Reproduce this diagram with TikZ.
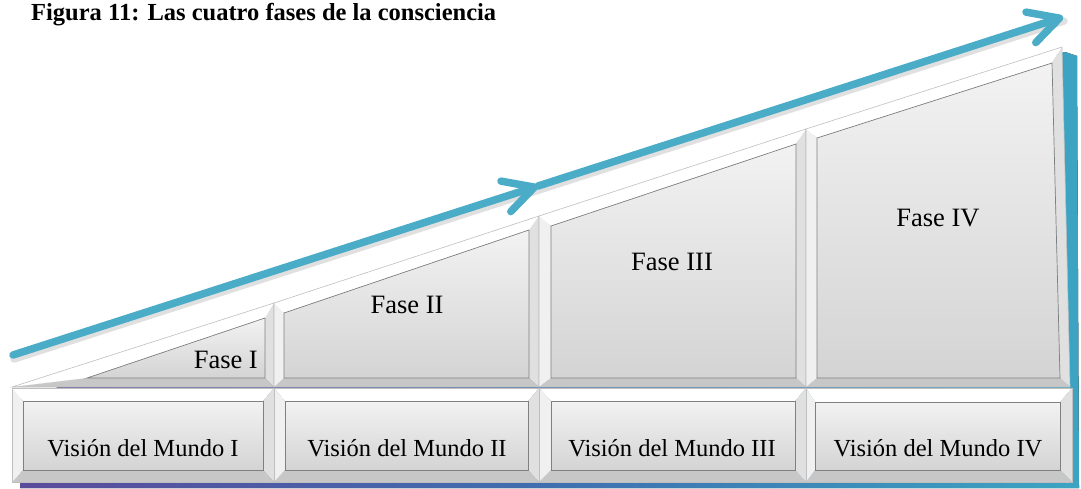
\documentclass[tikz,border=0pt]{standalone}
\usepackage{fontspec}
\setmainfont{Liberation Serif}
\usetikzlibrary{arrows.meta}
\definecolor{flowteal}{HTML}{4AACC6}
\definecolor{backpurple}{HTML}{5B4B9B}
\definecolor{backblue}{HTML}{3F6FAF}
\definecolor{backteal}{HTML}{3CA4C2}
\begin{document}
\begin{tikzpicture}[x=1pt, y=-1pt,
    face/.style={top color=black!5, bottom color=black!17, draw=black!50, line width=0.7pt},
    phasetext/.style={font=\fontsize{26.5}{30}\selectfont, inner sep=0pt},
    worldtext/.style={font=\fontsize{24.5}{28}\selectfont, inner sep=0pt},
    flow/.style={draw=flowteal, line width=7.5pt, line cap=round,
      -{Straight Barb[length=30pt, width=32pt, line cap=round, line join=round]}},
    flowshadow/.style={draw=black!12, line width=7.5pt, line cap=round}]
  \useasboundingbox (0,0) rectangle (1081,488);
  % TITLE
  \node[anchor=base west, inner sep=0pt, font=\fontsize{24.5}{30}\selectfont\bfseries] (title) at (31,20)
    {Figura 11: Las cuatro fases de la consciencia};
  % COLOURED BACKING
  \fill[left color=backpurple, right color=backteal, middle color=backblue]
    (20,400) -- (1065,52) -- (1077,56) -- (1079,488) -- (20,488) -- cycle;
  % BEVELLED BOXES (outer TL/TR/BR/BL, inner TL/TR/BR/BL)
  \foreach \otl/\otr/\obr/\obl/\itl/\itr/\ibr/\ibl in {
      {12,388}/{274,388}/{274,482}/{12,482}/{23,401}/{263,401}/{263,470}/{23,470},
      {274,388}/{539,388}/{539,482}/{274,482}/{285,401}/{528,401}/{528,470}/{285,470},
      {539,388}/{806,388}/{806,482}/{539,482}/{551,401}/{795,401}/{795,470}/{551,470},
      {806,388}/{1072,388}/{1072,482}/{806,482}/{815,402}/{1060,402}/{1060,470}/{815,470},
      {12,387}/{274,303}/{274,387}/{12,387}/{87,378}/{265,318}/{265,378}/{87,378},
      {274,303}/{539,216}/{539,387}/{274,387}/{284,313}/{529,230}/{529,378}/{284,378},
      {539,216}/{806,129}/{806,387}/{539,387}/{551,226}/{796,144}/{796,378}/{551,378},
      {806,129}/{1062,47}/{1070,387}/{806,387}/{817,138}/{1052,63}/{1060,378}/{817,378}} {
    \fill[white] (\otl) -- (\otr) -- (\itr) -- (\itl) -- cycle;
    \fill[black!12] (\otr) -- (\obr) -- (\ibr) -- (\itr) -- cycle;
    \fill[black!22] (\obr) -- (\obl) -- (\ibl) -- (\ibr) -- cycle;
    \fill[black!6] (\obl) -- (\otl) -- (\itl) -- (\ibl) -- cycle;
    \draw[black!25, line width=0.6pt] (\otl) -- (\otr) -- (\obr) -- (\obl) -- cycle;
    \draw[face] (\itl) -- (\itr) -- (\ibr) -- (\ibl) -- cycle;
  }
  % PHASE LABELS
  \node[phasetext, anchor=base east] (faseI) at (258,368) {Fase I};
  \node[phasetext] (faseII) at (407,305) {Fase II};
  \node[phasetext] (faseIII) at (672,262) {Fase III};
  \node[phasetext] (faseIV) at (938,218) {Fase IV};
  % WORLDVIEW LABELS
  \node[worldtext] (mundoI) at (143,448) {Visión del Mundo I};
  \node[worldtext] (mundoII) at (407,448) {Visión del Mundo II};
  \node[worldtext] (mundoIII) at (672,448) {Visión del Mundo III};
  \node[worldtext] (mundoIV) at (938,448) {Visión del Mundo IV};
  % ARROW
  \coordinate (arrowStart) at (13,355);
  \coordinate (arrowMid) at (538,186);
  \coordinate (arrowEnd) at (1063,17);
  \draw[flowshadow] ([shift={(1,4)}]arrowStart) -- ([shift={(1,4)}]arrowEnd);
  \draw[flow] (arrowStart) -- (arrowMid);
  \draw[flow] (arrowMid) -- (arrowEnd);
\end{tikzpicture}
\end{document}
